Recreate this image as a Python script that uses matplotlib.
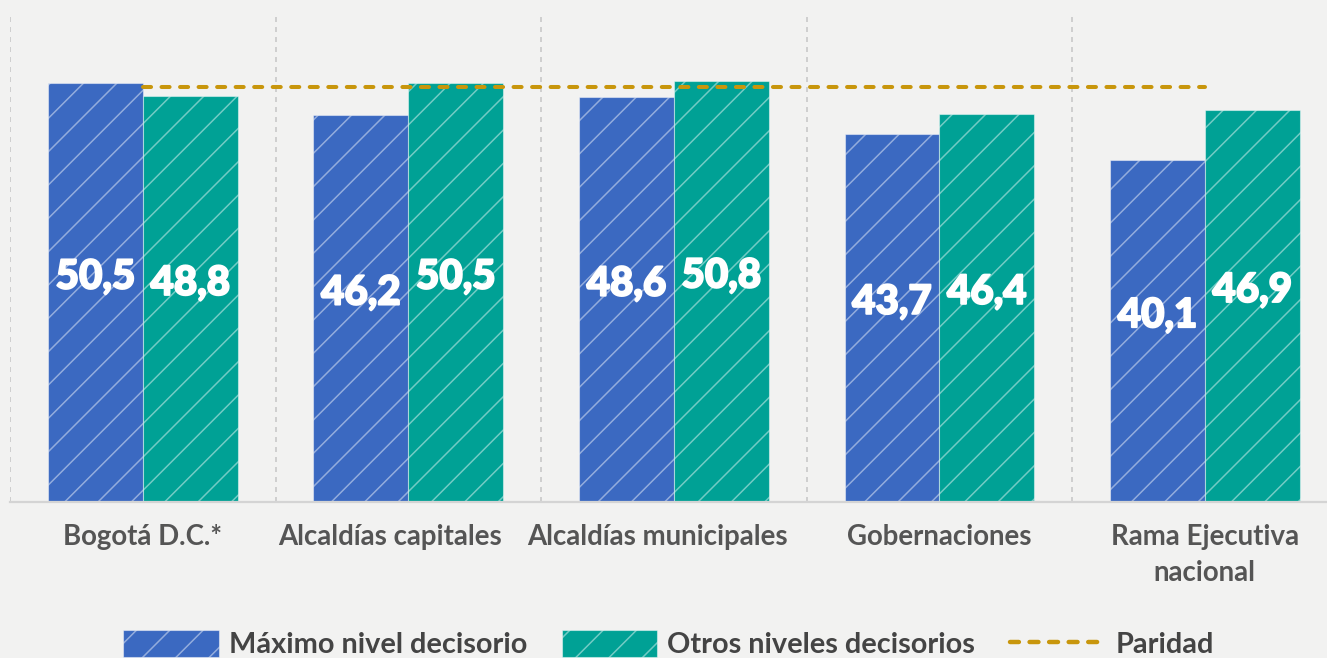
import numpy as np
import matplotlib
matplotlib.use("Agg")
from matplotlib import pyplot as plt
from matplotlib import transforms
from matplotlib import patheffects
from matplotlib.patches import Patch
from matplotlib.lines import Line2D

## data
categorias = ["Bogotá D.C.*", "Alcaldías capitales", "Alcaldías municipales",
              "Gobernaciones", "Rama Ejecutiva\nnacional"]
maximo_nivel = [50.5, 46.2, 48.6, 43.7, 40.1]
otros_niveles = [48.8, 50.5, 50.8, 46.4, 46.9]
paridad = 50

## styles
azul = "#3B69C1"
verde = "#00A195"
oro = "#C8960C"
fondo = "#F2F2F1"
gris_texto = "#555555"
# small horizontal nudges (in inches) of the tick labels, as in the original
ajuste_etiquetas = [0, -0.09, -0.08, 0, 0]

plt.rcParams["font.family"] = ["Lato", "DejaVu Sans"]
plt.rcParams["hatch.linewidth"] = 0.55

fig = plt.figure(figsize=(1327/200, 658/200), dpi=200, facecolor=fondo)
ax = fig.add_axes([10/1327, 1-502/658, 1-10/1327, (502-13)/658])
ax.set_facecolor(fondo)

x = np.arange(len(categorias))
ancho = 0.357
base = -6  # the axis does not start at zero
borde = (1, 1, 1, 0.45)

ax.bar(x - ancho/2, np.array(maximo_nivel) - base, ancho, bottom=base,
       color=azul, edgecolor=borde, linewidth=0.4, hatch="//", zorder=2)
ax.bar(x + ancho/2, np.array(otros_niveles) - base, ancho, bottom=base,
       color=verde, edgecolor=borde, linewidth=0.4, hatch="//", zorder=2)

## value labels
grueso = [patheffects.withStroke(linewidth=0.7, foreground="white")]
for xs, vals in [(x - ancho/2, maximo_nivel), (x + ancho/2, otros_niveles)]:
    for xi, v in zip(xs, vals):
        ax.text(xi, v/2 - 0.9, "{:.1f}".format(v).replace(".", ","),
                ha="center", va="center", color="white", fontsize=14.5,
                fontweight=900, zorder=4, path_effects=grueso)

## parity line
ax.plot([x[0], x[-1]], [paridad, paridad], color=oro, linewidth=1.45,
        linestyle=(0, (2.0, 2.6)), dash_capstyle="round", zorder=3)

ax.set_xlim(-0.5, 4.46)
ax.set_ylim(base, 60)

## vertical dashed separators
ax.set_xticks(x)
ax.set_xticks(x - 0.5, minor=True)
ax.grid(axis="x", which="minor", color="#C9C9C9", linestyle=(0, (3, 3)),
        linewidth=0.6, zorder=0)
ax.set_axisbelow(True)
ax.tick_params(axis="x", which="both", length=0)
ax.set_xticklabels(categorias, fontsize=9.95, fontweight="bold",
                   color=gris_texto, linespacing=1.45)
ax.tick_params(axis="x", pad=8)
ax.set_yticks([])
for lab, dx in zip(ax.get_xticklabels(), ajuste_etiquetas):
    lab.set_transform(lab.get_transform() +
                      transforms.ScaledTranslation(dx, 0, fig.dpi_scale_trans))

for s in ["top", "right", "left"]:
    ax.spines[s].set_visible(False)
ax.spines["bottom"].set_color("#D4D4D4")
ax.spines["bottom"].set_linewidth(0.8)

## legend
h1 = Patch(facecolor=azul, edgecolor=borde, linewidth=0.4, hatch="//")
h2 = Patch(facecolor=verde, edgecolor=borde, linewidth=0.4, hatch="//")
h3 = Line2D([], [], color=oro, linewidth=1.6, linestyle=(0, (2.0, 2.4)),
            dash_capstyle="round")
leg = fig.legend([h1, h2, h3],
                 ["Máximo nivel decisorio", "Otros niveles decisorios", "Paridad"],
                 loc="center", bbox_to_anchor=(0.5 + 5/1327, 1-644/658), ncol=3,
                 frameon=False, fontsize=10.4, handlelength=3.3, handleheight=1.1,
                 handletextpad=0.35, columnspacing=1.2, borderaxespad=0)
for t in leg.get_texts():
    t.set_fontweight("bold")
    t.set_color("#444444")

fig.savefig("out.png", dpi=200, facecolor=fondo)
